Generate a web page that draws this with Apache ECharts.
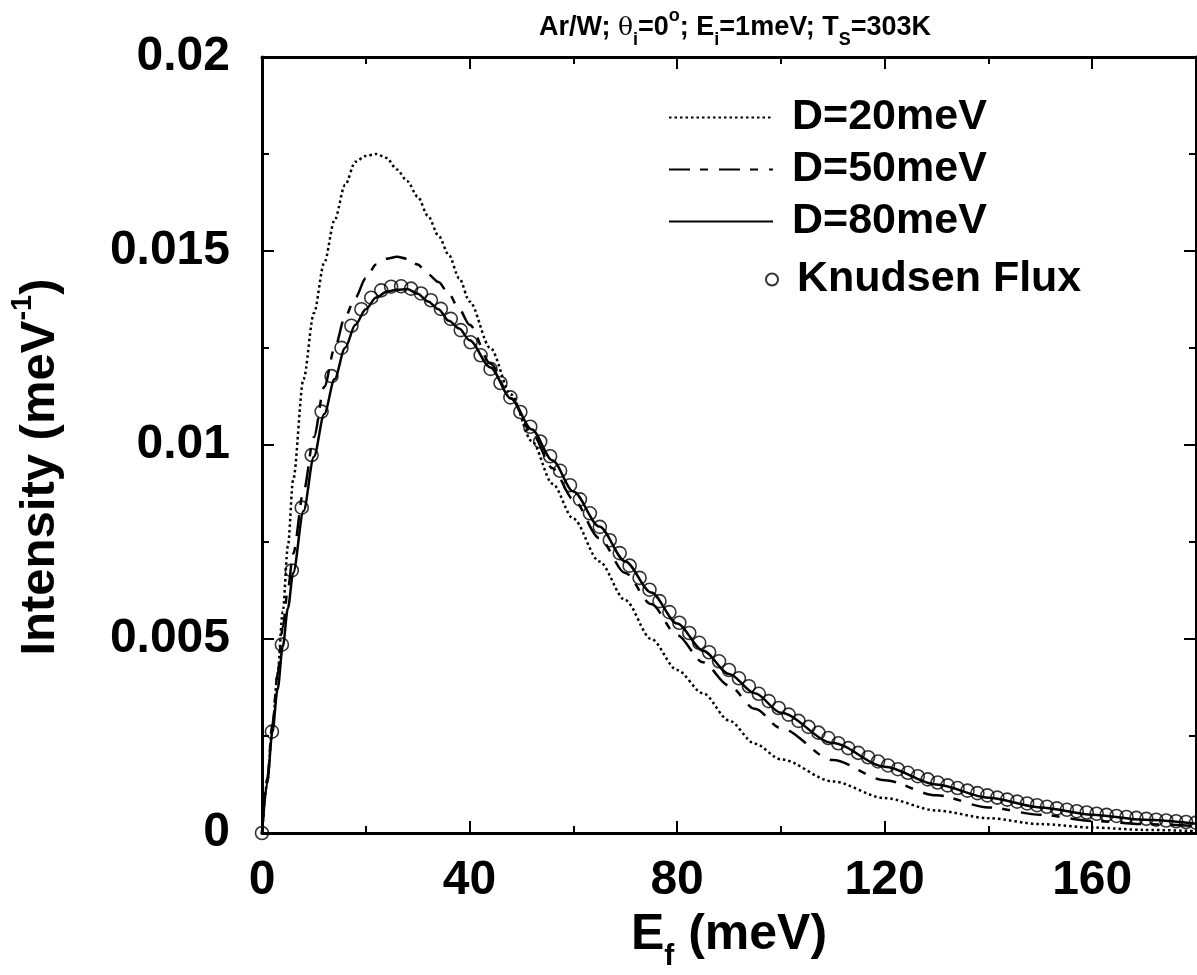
<!DOCTYPE html>
<html>
<head>
<meta charset="utf-8">
<title>Ar/W energy distribution</title>
<script src="https://cdn.jsdelivr.net/npm/echarts@6/dist/echarts.min.js"></script>
<style>
  html, body { margin: 0; padding: 0; background: #fff; }
  #chart { width: 1197px; height: 975px; }
</style>
</head>
<body>
<div id="chart"></div>
<script>
// energies (meV) for the model curves
const modelE = [0, 1, 2, 3, 4, 5, 6, 8, 10, 12, 14, 16, 18, 20, 22, 24, 26, 28, 30, 32, 34, 36, 38, 40,
  44, 48, 52, 56, 60, 65, 70, 75, 80, 85, 90, 95, 100, 110, 120, 130, 140, 150, 160, 170, 180]

const d20 = [0, 0.0013, 0.0027, 0.0041, 0.0057, 0.0074, 0.0091, 0.0117, 0.0134, 0.0147, 0.0158, 0.0167, 0.0173, 0.01745,
  0.0175, 0.0174, 0.0171, 0.0168, 0.0164, 0.0159, 0.0154, 0.0149, 0.0143, 0.0137,
  0.0125, 0.0113, 0.0101, 0.0090, 0.0081, 0.0070, 0.0060, 0.0050, 0.0042, 0.0036, 0.0029, 0.0023, 0.0019,
  0.00133, 0.00090, 0.00058, 0.00038, 0.00023, 0.00014, 0.00008, 0.00005]

const d50 = [0, 0.0014, 0.0028, 0.0041, 0.0053, 0.0063, 0.0072, 0.0088, 0.0102, 0.0115, 0.0125, 0.0133, 0.0138, 0.0143,
  0.01465, 0.0148, 0.01485, 0.0148, 0.01465, 0.0144, 0.0142, 0.0139, 0.0135, 0.0131,
  0.0121, 0.0112, 0.0103, 0.0094, 0.0086, 0.0076, 0.0067, 0.0059, 0.0051, 0.0044, 0.0038, 0.0032, 0.0027,
  0.00188, 0.00136, 0.00097, 0.00066, 0.00047, 0.00031, 0.00023, 0.00018]

const d80 = [0, 0.0013, 0.0026, 0.0037, 0.0048, 0.0058, 0.0067, 0.0083, 0.0097, 0.0108, 0.0117, 0.0125, 0.0131, 0.0135,
  0.0138, 0.01395, 0.0140, 0.01402, 0.0139, 0.0137, 0.0135, 0.0132, 0.0130, 0.0127,
  0.0120, 0.0112, 0.0104, 0.0096, 0.0088, 0.0079, 0.0070, 0.0062, 0.0054, 0.0047, 0.0041, 0.0036, 0.0031,
  0.00232, 0.00171, 0.00125, 0.00091, 0.00066, 0.00047, 0.00034, 0.00024]

// Knudsen flux points
const knudsenE = [0, 1.91, 3.83, 5.74, 7.66, 9.57, 11.49, 13.40, 15.32, 17.23, 19.15, 21.06, 22.98, 24.89, 26.81,
  28.72, 30.64, 32.55, 34.47, 36.38, 38.30, 40.21, 42.13, 44.04, 45.96, 47.87, 49.79, 51.70, 53.62, 55.53,
  57.45, 59.36, 61.28, 63.19, 65.11, 67.02, 68.94, 70.85, 72.77, 74.68, 76.60, 78.51, 80.43, 82.34, 84.26,
  86.17, 88.09, 90.00, 91.91, 93.83, 95.74, 97.66, 99.57, 101.49, 103.40, 105.32, 107.23, 109.15, 111.06,
  112.98, 114.89, 116.81, 118.72, 120.64, 122.55, 124.47, 126.38, 128.30, 130.21, 132.13, 134.04, 135.96,
  137.87, 139.79, 141.70, 143.62, 145.53, 147.45, 149.36, 151.28, 153.19, 155.11, 157.02, 158.94, 160.85,
  162.77, 164.68, 166.60, 168.51, 170.43, 172.34, 174.26, 176.17, 178.09, 180.00]

const knudsenI = [0, 0.002612, 0.004855, 0.006767, 0.008385, 0.009740, 0.010861, 0.011774, 0.012504, 0.013073,
  0.013498, 0.013797, 0.013986, 0.014080, 0.014090, 0.014029, 0.013906, 0.013730, 0.013509, 0.013251,
  0.012961, 0.012647, 0.012312, 0.011961, 0.011598, 0.011227, 0.010850, 0.010470, 0.010090, 0.009711,
  0.009335, 0.008964, 0.008599, 0.008240, 0.007889, 0.007546, 0.007214, 0.006890, 0.006575, 0.006271,
  0.005976, 0.005692, 0.005419, 0.005155, 0.004902, 0.004659, 0.004425, 0.004201, 0.003987, 0.003782,
  0.003587, 0.003399, 0.003222, 0.003051, 0.002889, 0.002734, 0.002586, 0.002447, 0.002314, 0.002188,
  0.002066, 0.001953, 0.001844, 0.001741, 0.001644, 0.001551, 0.001464, 0.001381, 0.001302, 0.001228,
  0.001158, 0.001091, 0.001028, 0.000969, 0.000913, 0.000860, 0.000809, 0.000762, 0.000717, 0.000675,
  0.000635, 0.000598, 0.000562, 0.000529, 0.000497, 0.000468, 0.000440, 0.000413, 0.000389, 0.000365,
  0.000343, 0.000322, 0.000303, 0.000284, 0.000267]

const xTicks = { min: 0, max: 180, interval: 40 }
const yTicks = { min: 0, max: 0.02, interval: 0.005 }

const FONT = "'Liberation Sans', Arial, sans-serif"
const pairs = (xs, ys) => xs.map((x, i) => [x, ys[i]])

const chart = echarts.init(document.getElementById('chart'))

const axisCommon = {
  axisLine: { onZero: false, lineStyle: { color: '#000', width: 3 } },
  axisTick: { inside: true, length: 12, lineStyle: { color: '#000', width: 2 } },
  minorTick: { show: true, splitNumber: 2, length: 7, lineStyle: { color: '#000', width: 2 } },
  splitLine: { show: false }
}

const lineSeries = (name, data, type, width) => ({
  name,
  type: 'line',
  data,
  xAxisIndex: 0,
  yAxisIndex: 0,
  symbol: 'none',
  smooth: 0.3,
  smoothMonotone: 'x',
  lineStyle: { color: '#000', width, type },
  itemStyle: { color: '#000' },
  z: 2
})

const legendText = { fontFamily: FONT, fontWeight: 'bold', fontSize: 43, color: '#000', padding: [0, 0, 0, 14] }

chart.setOption({
  animation: false,
  backgroundColor: '#fff',
  title: {
    text: 'Ar/W; {g|θ}{sb|i}=0{sp|o}; E{sb|i}=1meV; T{sb|S}=303K',
    left: 730,
    textAlign: 'center',
    top: 2,
    textStyle: {
      fontFamily: FONT,
      fontWeight: 'bold',
      fontSize: 27,
      color: '#000',
      rich: {
        g: { fontFamily: "'DejaVu Serif', serif", fontWeight: 'normal', fontSize: 25, color: '#000', lineHeight: 42 },
        sb: { fontFamily: FONT, fontWeight: 'bold', fontSize: 18, color: '#000', verticalAlign: 'bottom', lineHeight: 42 },
        sp: { fontFamily: FONT, fontWeight: 'bold', fontSize: 18, color: '#000', verticalAlign: 'top', lineHeight: 36 }
      }
    }
  },
  legend: [
    {
      data: ['D=20meV', 'D=50meV', 'D=80meV'],
      orient: 'vertical',
      left: 663,
      top: 91,
      itemWidth: 104,
      itemHeight: 20,
      itemGap: 9,
      selectedMode: false,
      itemStyle: { opacity: 0 },
      textStyle: legendText
    },
    {
      data: ['Knudsen Flux'],
      orient: 'vertical',
      left: 760,
      top: 253,
      itemWidth: 12,
      itemHeight: 12,
      selectedMode: false,
      textStyle: legendText
    }
  ],
  grid: { left: 262, right: 1, top: 57, bottom: 142, containLabel: false, outerBoundsMode: 'none' },
  xAxis: [
    {
      type: 'value',
      ...xTicks,
      position: 'bottom',
      name: '{b|E}{sb|f}{b| (meV)}',
      nameLocation: 'middle',
      nameGap: 62,
      nameTextStyle: {
        rich: {
          b: { fontFamily: FONT, fontWeight: 'bold', fontSize: 50, color: '#000', lineHeight: 64 },
          sb: { fontFamily: FONT, fontWeight: 'bold', fontSize: 30, color: '#000', verticalAlign: 'bottom', lineHeight: 74 }
        }
      },
      axisLabel: { fontFamily: FONT, fontWeight: 'bold', fontSize: 48, color: '#000', margin: 24, showMaxLabel: false },
      ...axisCommon
    },
    {
      type: 'value',
      ...xTicks,
      position: 'top',
      axisLabel: { show: false },
      ...axisCommon
    }
  ],
  yAxis: [
    {
      type: 'value',
      ...yTicks,
      position: 'left',
      name: '{b|Intensity (meV}{sp|-1}{b|)}',
      nameLocation: 'middle',
      nameRotate: 90,
      nameGap: 190,
      nameTextStyle: {
        padding: [0, 44, 0, 0],
        rich: {
          b: { fontFamily: FONT, fontWeight: 'bold', fontSize: 49, color: '#000', lineHeight: 64 },
          sp: { fontFamily: FONT, fontWeight: 'bold', fontSize: 29, color: '#000', verticalAlign: 'top', lineHeight: 60 }
        }
      },
      axisLabel: { fontFamily: FONT, fontWeight: 'bold', fontSize: 48, color: '#000', margin: 32 },
      ...axisCommon
    },
    {
      type: 'value',
      ...yTicks,
      position: 'right',
      axisLabel: { show: false },
      ...axisCommon
    }
  ],
  series: [
    lineSeries('D=20meV', pairs(modelE, d20), [2.5, 3], 2.5),
    lineSeries('D=50meV', pairs(modelE, d50), [21, 10, 8, 11], 2.5),
    lineSeries('D=80meV', pairs(modelE, d80), 'solid', 2.5),
    {
      name: 'Knudsen Flux',
      type: 'scatter',
      data: pairs(knudsenE, knudsenI),
      xAxisIndex: 0,
      yAxisIndex: 0,
      symbol: 'circle',
      symbolSize: 13,
      itemStyle: { color: 'rgba(0,0,0,0)', borderColor: '#000', borderWidth: 1.6 },
      z: 3
    }
  ]
})
</script>
</body>
</html>
